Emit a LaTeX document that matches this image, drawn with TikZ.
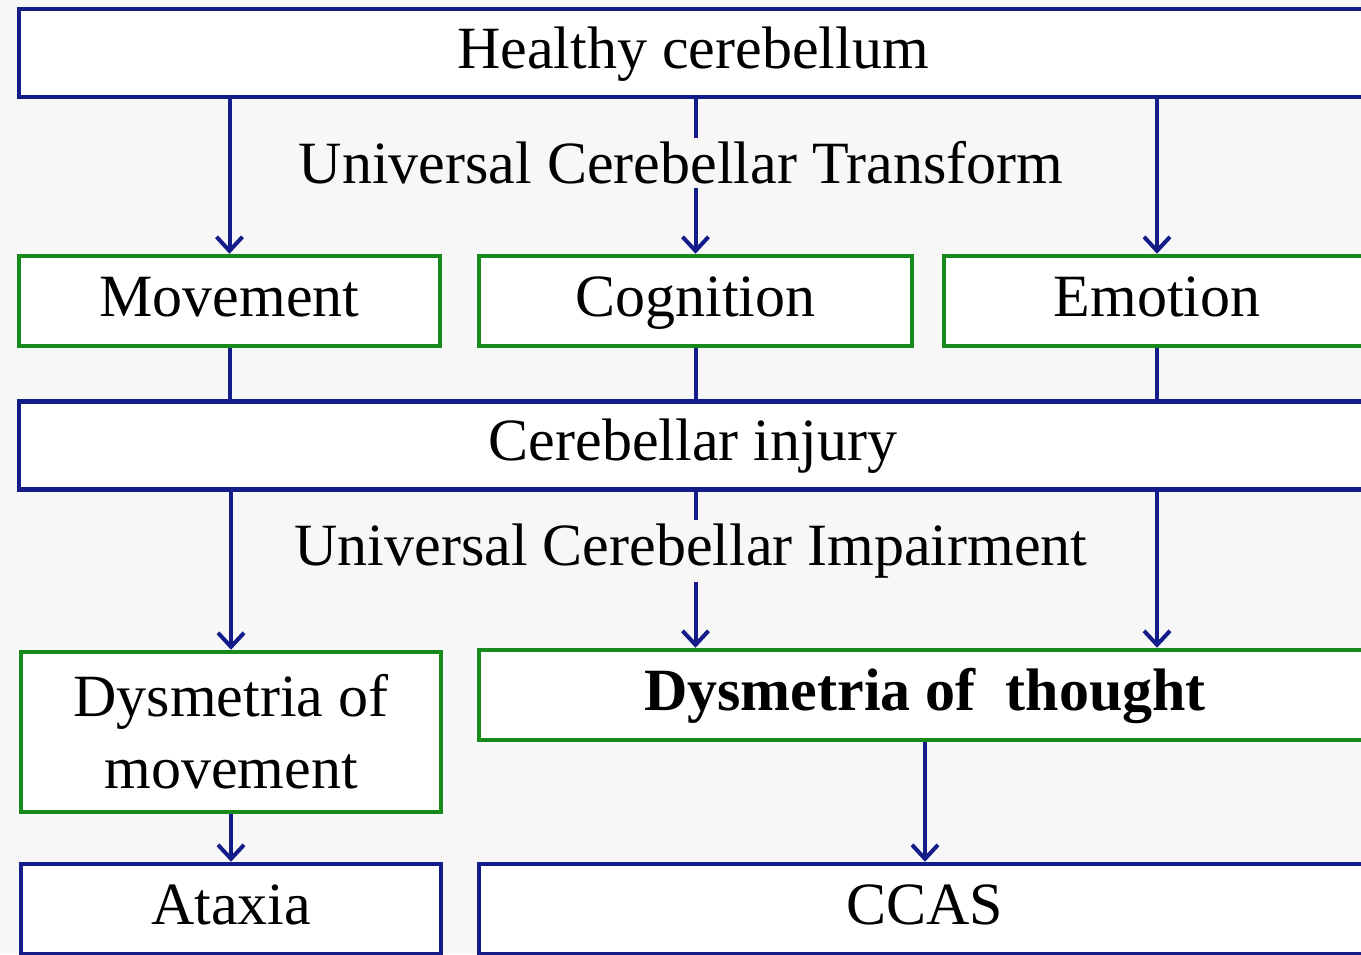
\documentclass[tikz,border=0pt]{standalone}
\usepackage{fontspec}
\setmainfont{Liberation Serif}
\usetikzlibrary{arrows.meta}
\definecolor{cbblue}{HTML}{141C8A}
\definecolor{cbgreen}{HTML}{168A1A}
\definecolor{cbback}{HTML}{F7F7F7}

\begin{document}
\begin{tikzpicture}[x=1pt, y=-1pt,
    bluebox/.style={draw=cbblue, line width=4.5pt, fill=white, inner sep=0pt,
      minimum height=88pt, align=center, text height=42pt, text depth=12pt,
      font=\fontsize{60}{72}\selectfont},
    greenbox/.style={bluebox, draw=cbgreen},
    link/.style={cbblue, line width=4pt},
    arr/.style={link, -{Straight Barb[length=14pt, width=26pt]}},
    lbl/.style={fill=cbback, inner sep=4pt, font=\fontsize{60}{72}\selectfont}]
  \fill[cbback] (0,0) rectangle (1361,954);
  \clip (0,0) rectangle (1361,954);

  % boxes
  \node[bluebox, minimum width=1348pt] (healthy) at (693,53) {Healthy cerebellum};
  \node[greenbox, minimum width=421pt, minimum height=90pt] (mov) at (229.5,301) {Movement};
  \node[greenbox, minimum width=433pt, minimum height=90pt] (cog) at (695.5,301) {Cognition};
  \node[greenbox, minimum width=426pt, minimum height=90pt] (emo) at (1157,301) {Emotion};
  \node[bluebox, minimum width=1348pt] (inj) at (693,445.5) {Cerebellar injury};
  \node[greenbox, minimum width=420pt, minimum height=160pt, text height=, text depth=] (dmov) at (231,732)
    {Dysmetria of\\movement};
  \node[greenbox, minimum width=892pt, minimum height=90pt] (dthought) at (925,695)
    {\bfseries Dysmetria of\ \ thought};
  \node[bluebox, minimum width=420pt, minimum height=90pt] (ataxia) at (231,909) {Ataxia};
  \node[bluebox, minimum width=892pt, minimum height=90pt] (ccas) at (925,909) {CCAS};

  % connectors
  \draw[arr] (healthy.south -| mov.north) -- (mov.north);
  \draw[arr] (healthy.south -| cog.north) -- (cog.north);
  \draw[arr] (healthy.south -| emo.north) -- (emo.north);
  \draw[link] (mov.south) -- (inj.north -| mov.south);
  \draw[link] (cog.south) -- (inj.north -| cog.south);
  \draw[link] (emo.south) -- (inj.north -| emo.south);
  \draw[arr] (inj.south -| dmov.north) -- (dmov.north);
  \draw[arr] (inj.south -| cog.south) -- (dthought.north -| cog.south);
  \draw[arr] (inj.south -| emo.south) -- (dthought.north -| emo.south);
  \draw[arr] (dmov.south) -- (ataxia.north);
  \draw[arr] (dthought.south) -- (ccas.north);

  % labels over the middle arrows
  \node[lbl] (uct) at (681,163) {Universal Cerebellar Transform};
  \node[lbl] (uci) at (691,551) {Universal Cerebellar Impairment};
\end{tikzpicture}
\end{document}
